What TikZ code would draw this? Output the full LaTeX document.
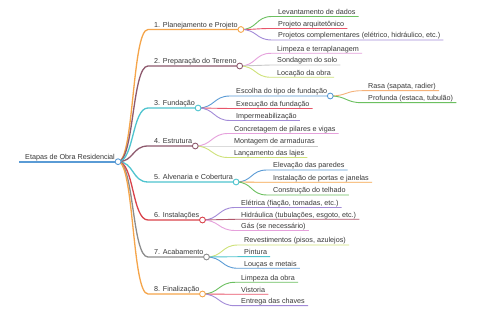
\documentclass[tikz,border=0pt]{standalone}
\usepackage{fontspec}
\setmainfont{Liberation Sans}
\definecolor{txt}{HTML}{383838}
\definecolor{orangeC}{HTML}{F5A54A}
\definecolor{mauveC}{HTML}{8E5A6E}
\definecolor{cyanC}{HTML}{4FC4CF}
\definecolor{redC}{HTML}{D9434B}
\definecolor{greyC}{HTML}{8C8C8C}
\definecolor{blueC}{HTML}{5A9BD5}
\definecolor{greenC}{HTML}{6CC060}
\definecolor{pinkredC}{HTML}{E8556A}
\definecolor{purpleC}{HTML}{A38BD8}
\definecolor{pinkC}{HTML}{E6A1DC}
\definecolor{lgreyC}{HTML}{C8C8C8}
\definecolor{ygreenC}{HTML}{CFE27A}
\definecolor{lorangeC}{HTML}{F5B27A}
\definecolor{mredC}{HTML}{B0566A}
\newcommand\mmleaf[6]{%
  \coordinate (s#2) at (#3,#4);
  \node[lbl] (n#2) at (#3+3,#4) {#6};
  \draw[l2,#5] (#1) .. controls +(16.5,0) and +(-16.5,0) .. (s#2) -- (n#2.south east);}
\newcommand\mmmid[6]{%
  \coordinate (s#2) at (#3,#4);
  \node[lbl] (n#2) at (#3+3,#4) {#6};
  \coordinate (c#2) at (n#2.south east);
  \draw[l1,#5] (#1) .. controls +(16,0) and +(-16,0) .. (s#2) -- (c#2);}
\begin{document}
\begin{tikzpicture}[x=1pt,y=-1pt,
  lbl/.style={anchor=south west, inner xsep=3pt, inner ysep=0.3pt, text height=5.3pt, text depth=1.7pt, font=\fontsize{7.2}{8}\selectfont, text=txt},
  dot/.style={circle, draw, fill=white, inner sep=0pt, minimum size=5.8pt, line width=0.9pt},
  l0/.style={line width=1.8pt},
  l1/.style={line width=1.3pt},
  l2/.style={line width=0.9pt}]
\useasboundingbox[fill=white] (0,0) rectangle (480,320);
% root
\coordinate (s0) at (19,161.7);
\node[lbl] (n0) at (22,161.7) {Etapas de Obra Residencial};
\coordinate (c0) at (n0.south east);
\draw[l0,blueC] (s0) -- (c0);
% level 1
\mmmid{c0}{1}{148}{29.5}{orangeC}{1. Planejamento e Projeto}
\mmmid{c0}{2}{148}{66}{mauveC}{2. Preparação do Terreno}
\mmmid{c0}{3}{148}{108}{cyanC}{3. Fundação}
\mmmid{c0}{4}{148}{146}{mauveC}{4. Estrutura}
\mmmid{c0}{5}{148}{182}{cyanC}{5. Alvenaria e Cobertura}
\mmmid{c0}{6}{148}{220}{redC}{6. Instalações}
\mmmid{c0}{7}{148}{257}{greyC}{7. Acabamento}
\mmmid{c0}{8}{148}{294}{orangeC}{8. Finalização}
% node 1
\mmleaf{c1}{11}{272}{16.5}{greenC}{Levantamento de dados}
\mmleaf{c1}{12}{272}{28.5}{pinkredC}{Projeto arquitetônico}
\mmleaf{c1}{13}{272}{40}{purpleC}{Projetos complementares (elétrico, hidráulico, etc.)}
% node 2
\mmleaf{c2}{21}{271}{53.3}{pinkC}{Limpeza e terraplanagem}
\mmleaf{c2}{22}{271}{65}{lgreyC}{Sondagem do solo}
\mmleaf{c2}{23}{271}{77.3}{ygreenC}{Locação da obra}
% node 3
\mmleaf{c3}{31}{230}{96}{blueC}{Escolha do tipo de fundação}
\coordinate (c31) at (n31.south east);
\mmleaf{c3}{32}{230}{108.5}{pinkredC}{Execução da fundação}
\mmleaf{c3}{33}{230}{120.5}{purpleC}{Impermeabilização}
\mmleaf{c31}{311}{362}{90.7}{lorangeC}{Rasa (sapata, radier)}
\mmleaf{c31}{312}{362}{102.7}{greenC}{Profunda (estaca, tubulão)}
% node 4
\mmleaf{c4}{41}{228}{133.5}{pinkC}{Concretagem de pilares e vigas}
\mmleaf{c4}{42}{228}{146}{lgreyC}{Montagem de armaduras}
\mmleaf{c4}{43}{228}{157.5}{ygreenC}{Lançamento das lajes}
% node 5
\mmleaf{c5}{51}{267}{170}{blueC}{Elevação das paredes}
\mmleaf{c5}{52}{267}{182.3}{orangeC}{Instalação de portas e janelas}
\mmleaf{c5}{53}{267}{195}{greenC}{Construção do telhado}
% node 6
\mmleaf{c6}{61}{235}{207.5}{purpleC}{Elétrica (fiação, tomadas, etc.)}
\mmleaf{c6}{62}{235}{219.3}{mredC}{Hidráulica (tubulações, esgoto, etc.)}
\mmleaf{c6}{63}{235}{230.5}{pinkC}{Gás (se necessário)}
% node 7
\mmleaf{c7}{71}{238}{245}{ygreenC}{Revestimentos (pisos, azulejos)}
\mmleaf{c7}{72}{238}{256.7}{cyanC}{Pintura}
\mmleaf{c7}{73}{238}{268.3}{blueC}{Louças e metais}
% node 8
\mmleaf{c8}{81}{235}{282.3}{greenC}{Limpeza da obra}
\mmleaf{c8}{82}{235}{294.3}{pinkredC}{Vistoria}
\mmleaf{c8}{83}{235}{305.7}{purpleC}{Entrega das chaves}
% circles
\node[dot,draw=blueC] (d0) at (c0) {};
\node[dot,draw=orangeC] (d1) at (c1) {};
\node[dot,draw=mauveC] (d2) at (c2) {};
\node[dot,draw=cyanC] (d3) at (c3) {};
\node[dot,draw=mauveC] (d4) at (c4) {};
\node[dot,draw=cyanC] (d5) at (c5) {};
\node[dot,draw=redC] (d6) at (c6) {};
\node[dot,draw=greyC] (d7) at (c7) {};
\node[dot,draw=orangeC] (d8) at (c8) {};
\node[dot,draw=blueC] (d31) at (c31) {};
\end{tikzpicture}
\end{document}
